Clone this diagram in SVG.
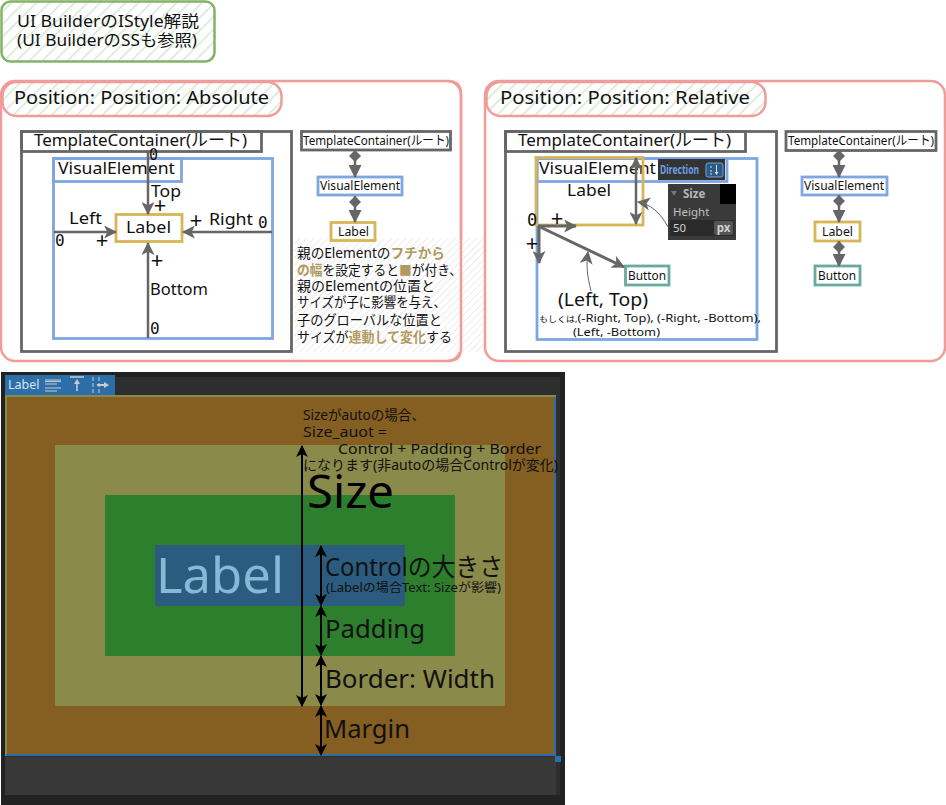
<svg xmlns="http://www.w3.org/2000/svg" width="946" height="805" viewBox="0 0 946 805">
<style>
text{font-family:"Noto Sans","Noto Sans CJK JP",sans-serif;fill:#111}
.red{fill:none;stroke:#f19c99;stroke-width:2.5}
.gr{fill:none;stroke:#666;stroke-width:2.8}
.bl{fill:none;stroke:#7ea6e0;stroke-width:2.8}
.ye{fill:none;stroke:#d6b656;stroke-width:2.8}
.te{fill:none;stroke:#67ab9f;stroke-width:2.8}
.c{stroke:#666;stroke-width:2.5;fill:none}
.k{stroke:#000;stroke-width:2;fill:none}
.z{font-family:"DejaVu Sans Mono",monospace}
.p{font-size:22px;text-anchor:middle}
.t11{font-size:11.5px}.t12{font-size:12.5px}.t13{font-size:13.5px}.t15{font-size:15.5px}.t16{font-size:17px}.t18{font-size:18.5px}.t24{font-size:25px}
.m{text-anchor:middle}
.gold{fill:#b09a62;font-weight:700}
</style>
<defs>
<pattern id="hg" width="9" height="9" patternUnits="userSpaceOnUse" patternTransform="rotate(45)"><rect width="9" height="9" fill="#fff"/><line x1="0" y1="0" x2="0" y2="9" stroke="#d5e8d4" stroke-width="3"/></pattern>
<pattern id="hs" width="5" height="5" patternUnits="userSpaceOnUse" patternTransform="rotate(45)"><rect width="5" height="5" fill="#fff"/><line x1="0" y1="0" x2="0" y2="5" stroke="#e6e6e6" stroke-width="1.5"/></pattern>
<marker id="a" viewBox="0 0 12 12" refX="11" refY="6" markerWidth="13" markerHeight="13" markerUnits="userSpaceOnUse" orient="auto"><path d="M0 0L12 6L0 12L3 6Z" fill="#666"/></marker>
<marker id="as" viewBox="0 0 12 12" refX="1" refY="6" markerWidth="13" markerHeight="13" markerUnits="userSpaceOnUse" orient="auto"><path d="M12 0L0 6L12 12L9 6Z" fill="#666"/></marker>
<marker id="tr" viewBox="0 0 12 12" refX="11" refY="6" markerWidth="13" markerHeight="13" markerUnits="userSpaceOnUse" orient="auto"><path d="M0 0L12 6L0 12Z" fill="#666"/></marker>
<marker id="di" viewBox="0 0 12 12" refX="0" refY="6" markerWidth="12" markerHeight="12" markerUnits="userSpaceOnUse" orient="auto"><path d="M0 6L6 0L12 6L6 12Z" fill="#666"/></marker>
<marker id="ke" viewBox="0 0 12 12" refX="11" refY="6" markerWidth="12" markerHeight="12" markerUnits="userSpaceOnUse" orient="auto"><path d="M0 0L12 6L0 12L3 6Z" fill="#000"/></marker>
<marker id="ks" viewBox="0 0 12 12" refX="1" refY="6" markerWidth="12" markerHeight="12" markerUnits="userSpaceOnUse" orient="auto"><path d="M12 0L0 6L12 12L9 6Z" fill="#000"/></marker>
</defs>
<rect width="946" height="805" fill="#fff"/>

<g id="title"><rect x="1.500" y="1.500" width="213" height="60" rx="9" fill="url(#hg)" stroke="#82b366" stroke-width="2.5"/>
<text x="17" y="27" class="t15" lengthAdjust="spacingAndGlyphs" textLength="182">UI BuilderのIStyle解説</text>
<text x="17" y="46" class="t15" lengthAdjust="spacingAndGlyphs" textLength="180">(UI BuilderのSSも参照)</text></g>

<g id="panel-absolute">
<rect x="1" y="81" width="460" height="280" rx="14" fill="#fff" class="red"/>
<rect x="294" y="238" width="191" height="114" fill="url(#hs)"/>
<path d="M448 81Q461 81 461 94V348Q461 361 448 361" class="red"/>
<rect x="485" y="81" width="460" height="280" rx="14" fill="#fff" class="red"/>
<rect x="2.500" y="82" width="279" height="34" rx="14" class="red" style="fill:url(#hg)"/>
<text x="14" y="104" class="t18" lengthAdjust="spacingAndGlyphs" textLength="255">Position: Position: Absolute</text>
</g>

<g id="abs-container"><rect x="21.500" y="131.500" width="270" height="220" class="gr"/><rect x="21.500" y="131.500" width="240" height="20" class="gr"/><text x="34" y="146" class="t16" lengthAdjust="spacingAndGlyphs" textLength="213">TemplateContainer(ルート)</text></g>
<g id="abs-visual"><rect x="53.500" y="158.500" width="219" height="180" class="bl"/><rect x="53.500" y="158.500" width="128" height="23" class="bl"/><text x="58" y="174" class="t16" lengthAdjust="spacingAndGlyphs" textLength="117">VisualElement</text></g>
<g id="abs-label"><rect x="116" y="214.500" width="66" height="27" fill="#fff" class="ye"/><text x="126" y="233" class="t15" lengthAdjust="spacingAndGlyphs" textLength="45">Label</text></g>
<g id="abs-tree-container"><rect x="301.500" y="131.500" width="149" height="18.500" fill="#fff" class="gr"/><text x="303" y="145" class="t12" lengthAdjust="spacingAndGlyphs" textLength="146">TemplateContainer(ルート)</text></g>
<g id="abs-tree-visual"><rect x="318" y="177" width="84" height="18" fill="#fff" class="bl"/><text x="320" y="190" class="t12" lengthAdjust="spacingAndGlyphs" textLength="80">VisualElement</text></g>
<g id="abs-tree-label"><rect x="331" y="222.500" width="44" height="18" fill="#fff" class="ye"/><text x="338" y="236" class="t12" lengthAdjust="spacingAndGlyphs" textLength="31">Label</text></g>

<g id="rel-header"><rect x="486.500" y="82" width="279" height="34" rx="14" class="red" style="fill:url(#hg)"/><text x="500" y="104" class="t18" lengthAdjust="spacingAndGlyphs" textLength="250">Position: Position: Relative</text></g>
<g id="rel-container"><rect x="505.500" y="131.500" width="271" height="220" class="gr"/><rect x="505.500" y="131.500" width="240" height="20" class="gr"/><text x="518" y="146" class="t16" lengthAdjust="spacingAndGlyphs" textLength="213">TemplateContainer(ルート)</text></g>
<g id="rel-visual"><rect x="537" y="158.500" width="220" height="181" class="bl"/><rect x="537" y="158.500" width="190" height="23" class="bl"/><text x="539" y="174" class="t16" lengthAdjust="spacingAndGlyphs" textLength="117">VisualElement</text></g>
<g id="rel-label"><rect x="536" y="157.500" width="107" height="67.500" class="ye"/><text x="567" y="196" class="t15" lengthAdjust="spacingAndGlyphs" textLength="44">Label</text></g>
<g id="rel-direction"><rect x="658" y="159" width="67" height="21" fill="#333"/><text x="660" y="174" class="t11" style="fill:#6f9fe0;font-weight:700" lengthAdjust="spacingAndGlyphs" textLength="39">Direction</text><rect x="706" y="163" width="17" height="14" rx="2" fill="#2d5a85" stroke="#6f9fe0"/><path d="M711 166v2M711 170v2M711 173v2" stroke="#cfe0f0" fill="none"/><path d="M716.500 165V173" stroke="#cfe0f0" fill="none"/><path d="M714.500 172h4l-2 3z" fill="#cfe0f0"/></g>
<g id="rel-size"><rect x="668" y="184" width="68" height="56" fill="#3a3a3a"/><rect x="720" y="184" width="16" height="20" fill="#000"/><path d="M671 191h6l-3 5z" fill="#777"/><text x="683" y="198" class="t11" style="fill:#b8b8b8;font-weight:700">Size</text><text x="673" y="216" class="t11" style="fill:#c0c0c0">Height</text><rect x="670" y="220" width="64" height="16" rx="2" fill="#2a2a2a"/><text x="673" y="232" class="t11" style="fill:#d0d0d0">50</text><rect x="714" y="221" width="19" height="14" rx="2" fill="#555"/><text x="723.500" y="232" class="t11 m" style="fill:#d0d0d0;font-weight:700">px</text></g>
<g id="rel-button"><rect x="625.500" y="266" width="43.500" height="19" fill="#fff" class="te"/><text x="628" y="280" class="t12" lengthAdjust="spacingAndGlyphs" textLength="38">Button</text></g>
<g id="rel-tree-container"><rect x="786" y="131.500" width="150" height="19" fill="#fff" class="gr"/><text x="788" y="145" class="t12" lengthAdjust="spacingAndGlyphs" textLength="146">TemplateContainer(ルート)</text></g>
<g id="rel-tree-visual"><rect x="802" y="177" width="85" height="18" fill="#fff" class="bl"/><text x="804" y="190" class="t12" lengthAdjust="spacingAndGlyphs" textLength="80">VisualElement</text></g>
<g id="rel-tree-label"><rect x="815" y="222" width="45" height="19" fill="#fff" class="ye"/><text x="822" y="236" class="t12" lengthAdjust="spacingAndGlyphs" textLength="31">Label</text></g>
<g id="rel-tree-button"><rect x="815" y="266" width="45" height="19" fill="#fff" class="te"/><text x="818" y="280" class="t12" lengthAdjust="spacingAndGlyphs" textLength="38">Button</text></g>

<g id="connectors">
<path d="M148 151V214" class="c" marker-end="url(#a)"/>
<path d="M54 232H116" class="c" marker-end="url(#a)"/>
<path d="M272 232H183" class="c" marker-end="url(#a)"/>
<path d="M148 338V243" class="c" marker-end="url(#a)"/>
<path d="M355 150V177" class="c" marker-start="url(#di)" marker-end="url(#tr)"/>
<path d="M355 196V222" class="c" marker-start="url(#di)" marker-end="url(#tr)"/>
<path d="M636 158V224" class="c" marker-start="url(#as)" marker-end="url(#a)"/>
<path d="M668 227C660 212 650 204 638 202" class="c" style="stroke-width:1" marker-end="url(#a)"/>
<path d="M538 226H576" class="c" style="stroke-width:3" marker-end="url(#a)"/>
<path d="M539 226V263" class="c" style="stroke-width:3" marker-end="url(#a)"/>
<path d="M538 226L624 267" class="c" style="stroke-width:3" marker-end="url(#a)"/>
<path d="M591 291C587 275 586 265 588 252" class="c" style="stroke-width:1" marker-end="url(#a)"/>
<path d="M839 150V177" class="c" marker-start="url(#di)" marker-end="url(#tr)"/>
<path d="M839 195V222" class="c" marker-start="url(#di)" marker-end="url(#tr)"/>
<path d="M839 241V266" class="c" marker-start="url(#di)" marker-end="url(#tr)"/>
</g>

<g id="abs-labels">
<text x="151" y="197" class="t15" lengthAdjust="spacingAndGlyphs" textLength="30">Top</text>
<text x="69" y="224" class="t15" lengthAdjust="spacingAndGlyphs" textLength="33">Left</text>
<text x="209" y="225" class="t15" lengthAdjust="spacingAndGlyphs" textLength="44">Right</text>
<text x="150" y="295" class="t15" lengthAdjust="spacingAndGlyphs" textLength="58">Bottom</text>
<text x="149" y="160" font-size="15" class="z">0</text>
<text x="55" y="246" font-size="16" class="z">0</text>
<text x="258" y="227.500" font-size="16" class="z">0</text>
<text x="150" y="333.500" font-size="16" class="z">0</text>
<text x="160" y="213" class="p">+</text><text x="102" y="248" class="p">+</text><text x="196" y="228" class="p">+</text><text x="157" y="268" class="p">+</text>
</g>

<g id="note">
<text x="297" y="258" class="t13" lengthAdjust="spacingAndGlyphs" textLength="148">親のElementの<tspan class="gold">フチから</tspan></text>
<text x="297" y="275" class="t13" lengthAdjust="spacingAndGlyphs" textLength="165"><tspan class="gold">の幅</tspan>を設定すると<tspan class="gold">■</tspan>が付き、</text>
<text x="297" y="291" class="t13" lengthAdjust="spacingAndGlyphs" textLength="138">親のElementの位置と</text>
<text x="297" y="307" class="t13" lengthAdjust="spacingAndGlyphs" textLength="149">サイズが子に影響を与え、</text>
<text x="297" y="325" class="t13" lengthAdjust="spacingAndGlyphs" textLength="145">子のグローバルな位置と</text>
<text x="297" y="342" class="t13" lengthAdjust="spacingAndGlyphs" textLength="155">サイズが<tspan class="gold">連動して変化</tspan>する</text>
</g>

<g id="rel-labels">
<text x="527" y="226" font-size="17" class="z">0</text>
<text x="557" y="226" class="p">+</text><text x="532" y="251" class="p">+</text>
<text x="558" y="306" class="t18" lengthAdjust="spacingAndGlyphs" textLength="90">(Left, Top)</text>
<text x="539" y="322" class="t11" lengthAdjust="spacingAndGlyphs" textLength="222"><tspan font-size="8">もしくは,</tspan>(-Right, Top), (-Right, -Bottom),</text>
<text x="573" y="336" class="t11" lengthAdjust="spacingAndGlyphs" textLength="87">(Left, -Bottom)</text>
</g>

<g id="editor">
<rect x="1" y="372" width="564" height="433" fill="#222"/>
<rect x="5" y="377" width="555" height="418" fill="#2e2e2e"/>
<rect x="5" y="757" width="551" height="38" fill="#383838"/>
<rect x="5" y="395" width="551" height="361" fill="#858a4e"/>
<rect x="7" y="397" width="547" height="357" fill="#855e21"/>
<path d="M6 755H555V397" fill="none" stroke="#2c6fa8" stroke-width="2"/>
<rect x="555" y="756" width="6" height="6" fill="#2c6fa8"/>
<rect x="55" y="445" width="450" height="261" fill="#8a8a4a"/>
<rect x="105" y="495" width="350" height="161" fill="#2d7f2d"/>
<rect x="155" y="545" width="250" height="61" fill="#2b5c7f"/>
<rect x="5" y="375" width="110" height="20" fill="#2c6fa8"/>
<text x="8" y="389" class="t12" style="fill:#d5e5f0">Label</text>
<path d="M45 380H61M45 381.500H61M45 384H57M45 388H61M45 391H57" stroke="#ccc" stroke-width="1" fill="none"/>
<path d="M70 377H84M77 391V382" stroke="#ccc" stroke-width="1.500" fill="none"/><path d="M74 384L77 379L80 384Z" fill="#ccc"/>
<path d="M93 377V393M99 377V393" stroke="#ccc" stroke-width="1" stroke-dasharray="4 2" fill="none"/><path d="M97 385H106" stroke="#ccc" stroke-width="2"/><path d="M104 382L109 385L104 388Z" fill="#ccc"/>
<text x="156" y="593" font-size="50" style="fill:#86b8d8" lengthAdjust="spacingAndGlyphs" textLength="128">Label</text>
</g>

<g id="size-labels">
<path d="M302 446V706" class="k" marker-start="url(#ks)" marker-end="url(#ke)"/>
<path d="M321 546V605" class="k" marker-start="url(#ks)" marker-end="url(#ke)"/>
<path d="M321 606V655" class="k" marker-start="url(#ks)" marker-end="url(#ke)"/>
<path d="M321 656V705" class="k" marker-start="url(#ks)" marker-end="url(#ke)"/>
<path d="M321 706V755" class="k" marker-start="url(#ks)" marker-end="url(#ke)"/>
<text x="303" y="420" class="t13" lengthAdjust="spacingAndGlyphs" textLength="122">Sizeがautoの場合、</text>
<text x="303" y="437" class="t13" lengthAdjust="spacingAndGlyphs" textLength="84">Size_auot =</text>
<text x="338" y="454" class="t13" lengthAdjust="spacingAndGlyphs" textLength="203">Control + Padding + Border</text>
<text x="303" y="470" class="t13" lengthAdjust="spacingAndGlyphs" textLength="255">になります(非autoの場合Controlが変化)</text>
<text x="307" y="508" font-size="46" style="fill:#000" lengthAdjust="spacingAndGlyphs" textLength="87">Size</text>
<text x="325" y="576" class="t24" lengthAdjust="spacingAndGlyphs" textLength="178">Controlの大きさ</text>
<text x="326" y="592" class="t12" lengthAdjust="spacingAndGlyphs" textLength="175">(Labelの場合Text: Sizeが影響)</text>
<text x="325" y="638" class="t24" lengthAdjust="spacingAndGlyphs" textLength="100">Padding</text>
<text x="325" y="688" class="t24" lengthAdjust="spacingAndGlyphs" textLength="170">Border: Width</text>
<text x="324" y="738" class="t24" lengthAdjust="spacingAndGlyphs" textLength="86">Margin</text>
</g>
</svg>
